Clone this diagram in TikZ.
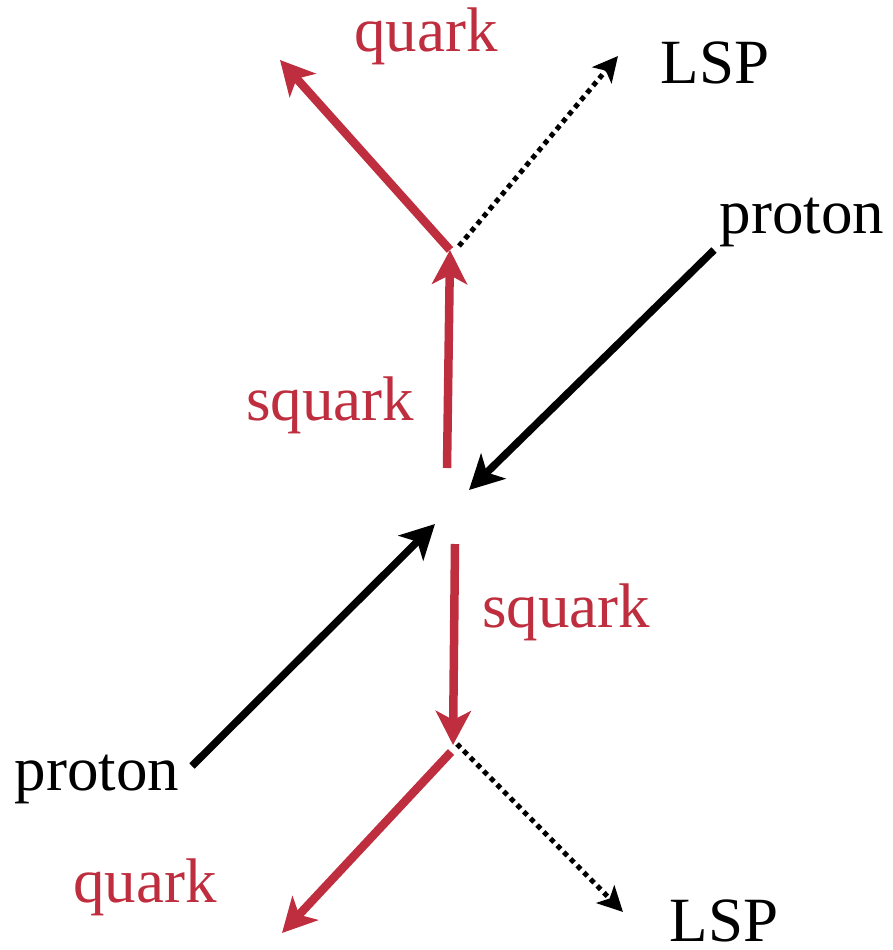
\documentclass[tikz,border=0pt]{standalone}
\usepackage{fontspec}
\setmainfont{Liberation Serif}
\usetikzlibrary{arrows.meta}
\definecolor{sqred}{RGB}{190,46,62}
\begin{document}
\begin{tikzpicture}[x=1pt,y=-1pt,
  redarrow/.style={draw=sqred,line width=8.5pt,-{Stealth[length=34pt,width=35pt,inset=9pt]}},
  blackarrow/.style={draw=black,line width=7.5pt,-{Stealth[length=34pt,width=35pt,inset=9pt]}},
  lspline/.style={draw=black,line width=5pt,dash pattern=on 5pt off 4.5pt,-{Stealth[length=25pt,width=25pt,inset=6pt]}},
  lbl/.style={font=\fontsize{63}{63}\selectfont,anchor=base,inner sep=0pt},
  redlbl/.style={lbl,text=sqred}]
\useasboundingbox (0,0) rectangle (892,950);
% coordinates
\coordinate (sqTopStart) at (447,468);
\coordinate (vTop) at (450,250);
\coordinate (qTopTip) at (280,60);
\coordinate (lspTopStart) at (459,246);
\coordinate (lspTopTip) at (618,56);
\coordinate (pTRStart) at (714,250);
\coordinate (pTRTip) at (469,490);
\coordinate (pBLStart) at (192,766);
\coordinate (pBLTip) at (435,524);
\coordinate (sqBotStart) at (455,544);
\coordinate (vBot) at (453,745);
\coordinate (qBotStart) at (451,752);
\coordinate (qBotTip) at (282,933);
\coordinate (lspBotStart) at (457,744);
\coordinate (lspBotTip) at (623,912);
% connectors
\draw[redarrow] (sqTopStart) -- (vTop);
\draw[redarrow] (vTop) -- (qTopTip);
\draw[lspline] (lspTopStart) -- (lspTopTip);
\draw[blackarrow] (pTRStart) -- (pTRTip);
\draw[blackarrow] (pBLStart) -- (pBLTip);
\draw[redarrow] (sqBotStart) -- (vBot);
\draw[redarrow] (qBotStart) -- (qBotTip);
\draw[lspline] (lspBotStart) -- (lspBotTip);
% labels
\node[redlbl] (quarkTop) at (426,52) {quark};
\node[lbl] (lspTop) at (715,83) {LSP};
\node[lbl] (protonTop) at (802,233) {proton};
\node[redlbl] (squarkL) at (330,420) {squark};
\node[redlbl] (squarkR) at (566,627) {squark};
\node[lbl] (protonBot) at (97,790) {proton};
\node[redlbl] (quarkBot) at (145,902) {quark};
\node[lbl] (lspBot) at (724,941) {LSP};
\end{tikzpicture}
\end{document}
